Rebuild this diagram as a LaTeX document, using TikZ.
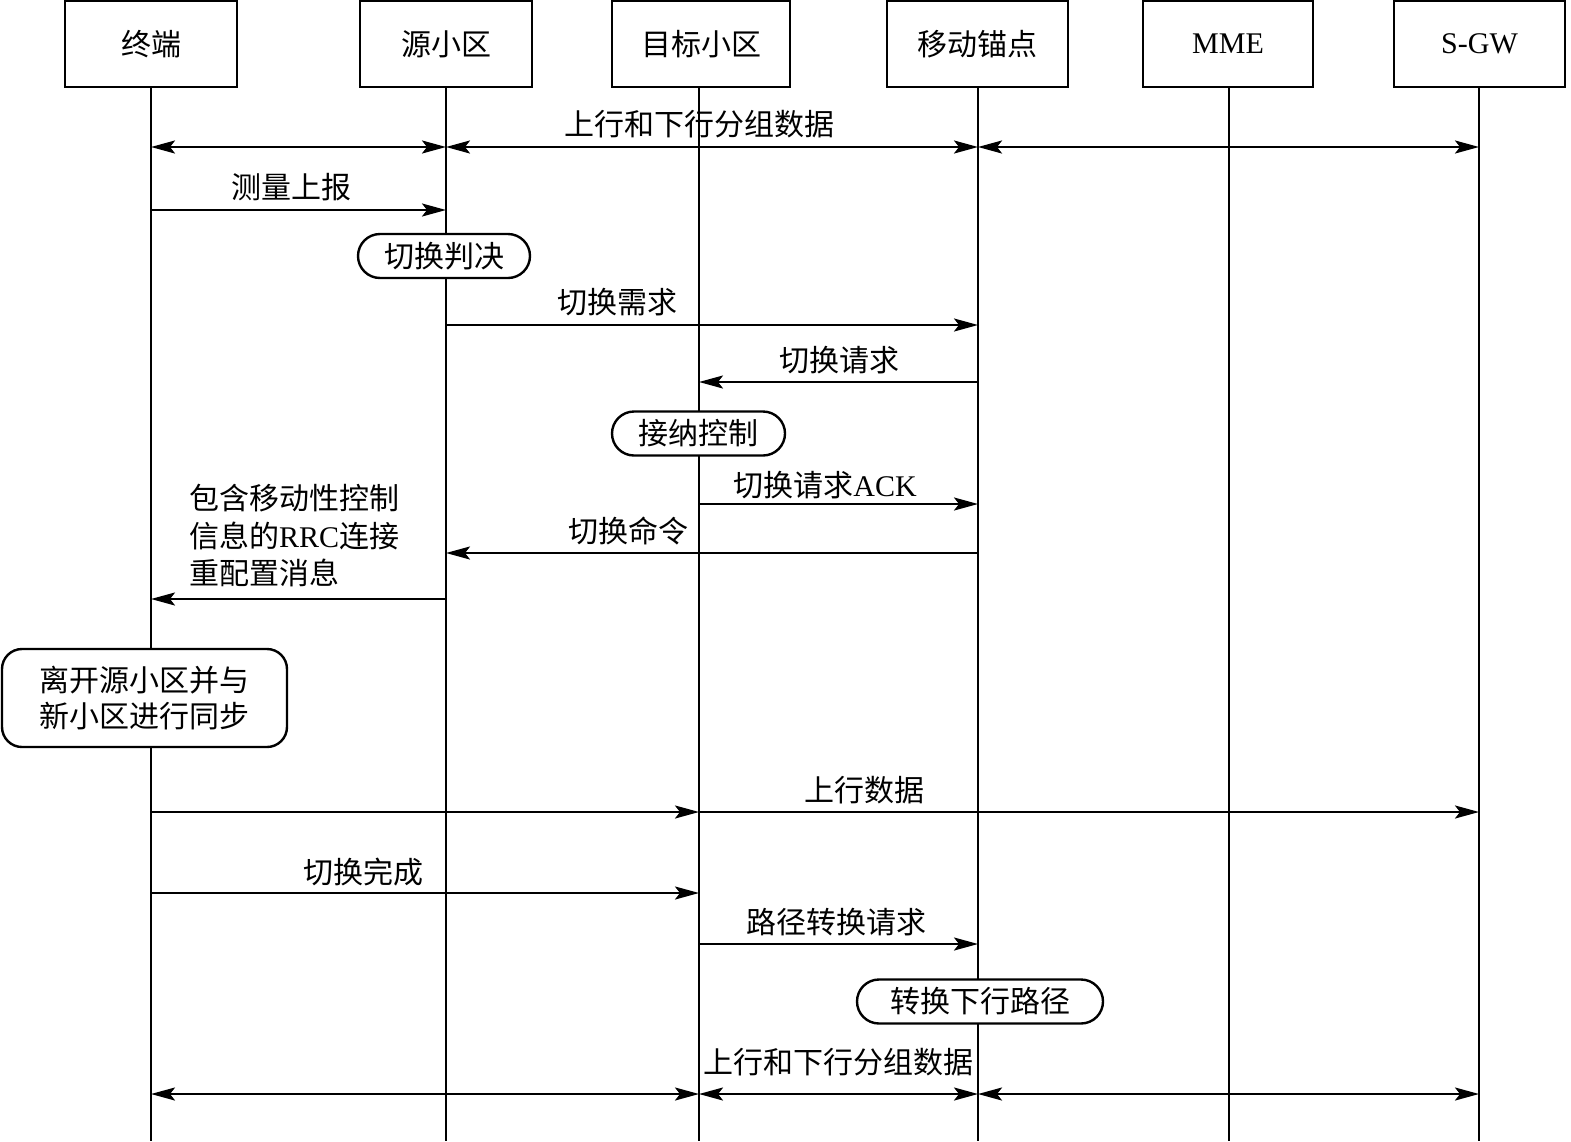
\documentclass[tikz,border=0pt]{standalone}
\usepackage{fontspec}
\setmainfont{Liberation Serif}
\newfontfamily\cjk{Noto Sans CJK SC}
\usetikzlibrary{arrows.meta}
\begin{document}
\begin{tikzpicture}[x=1pt,y=-1pt,
  font=\fontsize{30}{37}\selectfont,
  actor/.style={draw, line width=2.4pt, minimum height=86pt, inner sep=0pt},
  life/.style={line width=1.7pt},
  msg/.style={line width=2.4pt, -{Stealth[length=24pt,width=13pt,inset=5pt]}},
  dmsg/.style={line width=2.4pt, {Stealth[length=24pt,width=13pt,inset=5pt]}-{Stealth[length=24pt,width=13pt,inset=5pt]}},
  pill/.style={draw, line width=2.4pt, rounded corners=22pt, minimum height=44pt, inner sep=0pt, fill=white},
  lbl/.style={inner sep=0pt}
]
\useasboundingbox (0,0) rectangle (1571,1141);

% actors
\node[actor, minimum width=172pt] (ue)  at (151,44)   {\cjk 终端};
\node[actor, minimum width=172pt] (src) at (446,44)   {\cjk 源小区};
\node[actor, minimum width=178pt] (tgt) at (701,44)   {\cjk 目标小区};
\node[actor, minimum width=181pt] (anc) at (977.5,44) {\cjk 移动锚点};
\node[actor, minimum width=170pt] (mme) at (1228,44)  {MME};
\node[actor, minimum width=171pt] (sgw) at (1479.5,44){S-GW};

% lifelines
\coordinate (ueB)  at (151,1141);
\coordinate (srcB) at (446,1141);
\coordinate (tgtB) at (699,1141);
\coordinate (ancB) at (978,1141);
\coordinate (mmeB) at (1229,1141);
\coordinate (sgwB) at (1479,1141);
\coordinate (ueT)  at (151,87);
\coordinate (srcT) at (446,87);
\coordinate (tgtT) at (699,87);
\coordinate (ancT) at (978,87);
\coordinate (mmeT) at (1229,87);
\coordinate (sgwT) at (1479,87);
\draw[life] (ueT) -- (ueB);
\draw[life] (srcT) -- (srcB);
\draw[life] (tgtT) -- (tgtB);
\draw[life] (ancT) -- (ancB);
\draw[life] (mmeT) -- (mmeB);
\draw[life] (sgwT) -- (sgwB);

% top packet data
\draw[dmsg] (ueT |- 0,147) -- (srcT |- 0,147);
\draw[dmsg] (srcT |- 0,147) -- (ancT |- 0,147);
\draw[dmsg] (ancT |- 0,147) -- (sgwT |- 0,147);
\node[lbl] (l1) at (699,124) {\cjk 上行和下行分组数据};

% measurement report
\draw[msg] (ueT |- 0,210) -- (srcT |- 0,210);
\node[lbl] (l2) at (291,187) {\cjk 测量上报};

% HO decision
\node[pill, minimum width=172pt] (hod) at (444,256) {\cjk 切换判决};

% HO required
\draw[msg] (srcT |- 0,325) -- (ancT |- 0,325);
\node[lbl] (l3) at (617,302) {\cjk 切换需求};

% HO request
\draw[msg] (ancT |- 0,382) -- (tgtT |- 0,382);
\node[lbl] (l4) at (839,360) {\cjk 切换请求};

% admission control
\node[pill, minimum width=173pt] (adm) at (698.5,433.5) {\cjk 接纳控制};

% HO request ACK
\draw[msg] (tgtT |- 0,504) -- (ancT |- 0,504);
\node[lbl] (l5) at (825,485) {{\cjk 切换请求}ACK};

% HO command
\draw[msg] (ancT |- 0,553) -- (srcT |- 0,553);
\node[lbl] (l6) at (628,531) {\cjk 切换命令};

% RRC reconfiguration
\draw[msg] (srcT |- 0,599) -- (ueT |- 0,599);
\node[lbl, anchor=west] (l7a) at (189,498) {\cjk 包含移动性控制};
\node[lbl, anchor=west] (l7b) at (189,536) {{\cjk 信息的}RRC{\cjk 连接}};
\node[lbl, anchor=west] (l7c) at (189,573) {\cjk 重配置消息};

% detach & sync
\node[draw, line width=2.4pt, rounded corners=20pt, minimum width=285pt, minimum height=98pt,
      inner sep=0pt, fill=white, align=center, font=\fontsize{30}{36}\selectfont\cjk] (sync) at (144.5,698)
      {离开源小区并与\\新小区进行同步};

% uplink data
\draw[msg] (ueT |- 0,812) -- (tgtT |- 0,812);
\draw[msg] (tgtT |- 0,812) -- (sgwT |- 0,812);
\node[lbl] (l8) at (864,790) {\cjk 上行数据};

% HO complete
\draw[msg] (ueT |- 0,893) -- (tgtT |- 0,893);
\node[lbl] (l9) at (363,872) {\cjk 切换完成};

% path switch request
\draw[msg] (tgtT |- 0,944) -- (ancT |- 0,944);
\node[lbl] (l10) at (836,922) {\cjk 路径转换请求};

% switch DL path
\node[pill, minimum width=246pt] (sw) at (980,1001.5) {\cjk 转换下行路径};

% bottom packet data
\draw[dmsg] (ueT |- 0,1094) -- (tgtT |- 0,1094);
\draw[dmsg] (tgtT |- 0,1094) -- (ancT |- 0,1094);
\draw[dmsg] (ancT |- 0,1094) -- (sgwT |- 0,1094);
\node[lbl] (l11) at (838,1062) {\cjk 上行和下行分组数据};
\end{tikzpicture}
\end{document}
